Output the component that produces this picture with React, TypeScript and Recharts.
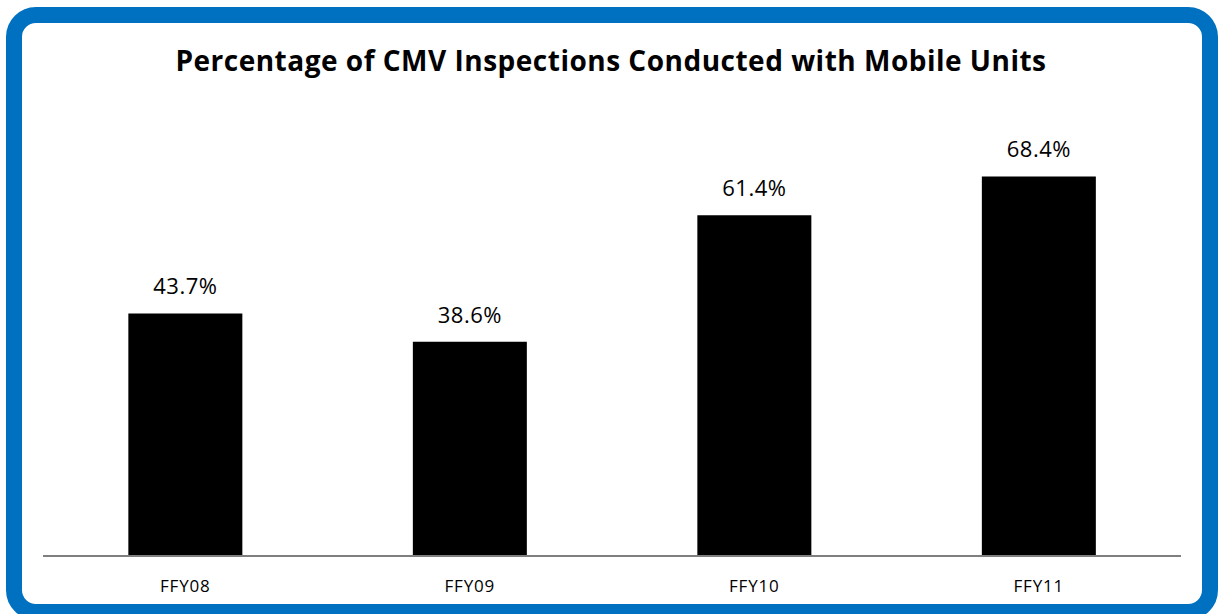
import { BarChart, Bar, XAxis, YAxis, LabelList } from 'recharts'

const categories = ['FFY08', 'FFY09', 'FFY10', 'FFY11']
const mobileShare = [43.7, 38.6, 61.4, 68.4]

const chartData = categories.map((name, i) => ({ name, value: mobileShare[i] }))

const FONT = '"Open Sans", "Noto Sans", sans-serif'

export default function App() {
    return (
        <div style={{
            position: 'absolute',
            left: 0,
            top: 0,
            width: 1219,
            height: 614,
            overflow: 'hidden',
            background: '#fff',
            fontFamily: FONT
        }}>
            <div style={{
                position: 'absolute',
                left: 6,
                top: 7,
                width: 1212,
                height: 613,
                boxSizing: 'border-box',
                border: '16px solid #0070C0',
                borderRadius: 30
            }} />
            <div style={{
                position: 'absolute',
                left: 0,
                top: 40,
                width: 1222,
                textAlign: 'center',
                fontSize: 28,
                fontWeight: 700,
                letterSpacing: 0.5,
                color: '#000',
                lineHeight: '40px'
            }}>
                Percentage of CMV Inspections Conducted with Mobile Units
            </div>
            <div style={{ position: 'absolute', left: 0, top: 0 }}>
                <BarChart
                    width={1219}
                    height={614}
                    data={chartData}
                    margin={{ top: 112, right: 38, bottom: 28, left: 43 }}
                    barCategoryGap="30%"
                >
                    <XAxis
                        dataKey="name"
                        height={30}
                        tickLine={false}
                        axisLine={{ stroke: '#7f7f7f', strokeWidth: 2 }}
                        tick={{ fontSize: 17, fill: '#000', fontFamily: FONT, letterSpacing: 0.8 }}
                        tickMargin={18}
                    />
                    <YAxis hide domain={[0, 80]} />
                    <Bar dataKey="value" fill="#000" isAnimationActive={false}>
                        <LabelList
                            dataKey="value"
                            position="top"
                            offset={19}
                            formatter={(v: any) => `${Number(v).toFixed(1)}%`}
                            style={{ fontSize: 22, fill: '#000', fontFamily: FONT, letterSpacing: 0.5 }}
                        />
                    </Bar>
                </BarChart>
            </div>
        </div>
    )
}
